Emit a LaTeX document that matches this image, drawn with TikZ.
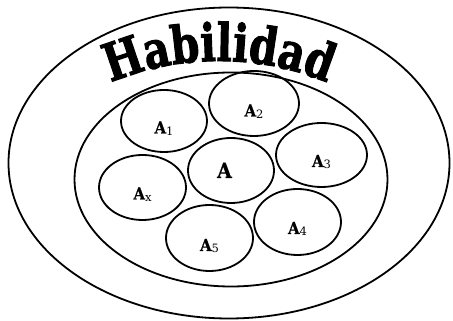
\documentclass[tikz,border=0pt]{standalone}
\usepackage{fontspec}
\setmainfont{Liberation Serif}
\newfontfamily\habfont[FakeStretch=0.78,FakeBold=1.8]{DejaVu Serif}
\newfontfamily\lblfont[FakeStretch=0.9,FakeBold=0.6]{DejaVu Serif}
\newfontfamily\subfont{DejaVu Serif}
\usetikzlibrary{shapes.geometric,decorations.text}
\newcommand\mysub[1]{\raisebox{-2pt}{\subfont\mdseries\fontsize{11.5}{11.5}\selectfont #1}}
\begin{document}
\begin{tikzpicture}[x=1pt,y=1pt,
  ell/.style={draw, ellipse, line width=1.8pt, inner sep=0pt},
  lbl/.style={anchor=base, font=\lblfont\bfseries\fontsize{16.5}{16.5}\selectfont, inner sep=0pt}]
\useasboundingbox (0,0) rectangle (453,321);
\node[ell, minimum width=441, minimum height=311] (outer) at (229,158) {};
\node[ell, minimum width=313, minimum height=214] (inner) at (231,141.5) {};
\node[ell, minimum width=86, minimum height=62] (a1) at (164,200) {};
\node[ell, minimum width=90, minimum height=65] (a2) at (254,217.5) {};
\node[ell, minimum width=86, minimum height=65] (a) at (231,150.5) {};
\node[ell, minimum width=91, minimum height=64] (a3) at (321.5,166) {};
\node[ell, minimum width=87, minimum height=65] (ax) at (142.5,133.5) {};
\node[ell, minimum width=87, minimum height=66] (a4) at (297.5,99) {};
\node[ell, minimum width=87, minimum height=66] (a5) at (209.5,83) {};
\node[lbl] (l1) at ([yshift=-12.5pt]a1.center) {A\mysub{1}};
\node[lbl] (l2) at ([yshift=-13pt]a2.center) {A\mysub{2}};
\node[lbl, font=\lblfont\bfseries\fontsize{21}{21}\selectfont] (l0) at ([xshift=-6.5pt,yshift=-7.5pt]a.center) {A};
\node[lbl] (l3) at ([yshift=-12pt]a3.center) {A\mysub{3}};
\node[lbl] (lx) at ([yshift=-12pt]ax.center) {A\mysub{x}};
\node[lbl] (l4) at ([yshift=-12pt]a4.center) {A\mysub{4}};
\node[lbl] (l5) at ([yshift=-13pt]a5.center) {A\mysub{5}};
\path[decorate, decoration={text along path, text align=center,
  text={|\habfont\bfseries\fontsize{52}{52}\selectfont|Habilidad}}]
  (219,-20) ++(130:280) arc[start angle=130, end angle=50, radius=280];
\end{tikzpicture}
\end{document}
